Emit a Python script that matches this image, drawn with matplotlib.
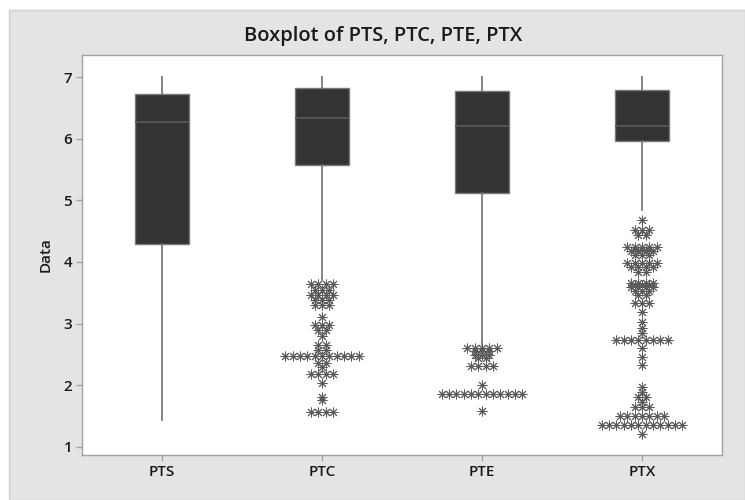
import matplotlib
matplotlib.use("Agg")
import matplotlib.pyplot as plt
from matplotlib.patches import Rectangle

plt.rcParams['font.family'] = ['Open Sans', 'DejaVu Sans']

# Summary statistics per variable
categories = ["PTS", "PTC", "PTE", "PTX"]
q1 = [4.29, 5.57, 5.12, 5.97]
median = [6.27, 6.33, 6.21, 6.20]
q3 = [6.73, 6.83, 6.77, 6.79]
whisker_low = [1.43, 3.70, 2.65, 4.84]
whisker_high = [7.0, 7.0, 7.0, 7.0]

# Outliers: distinct values and how many observations share each value
pts_out_values = []
pts_out_counts = []

ptc_out_values = [3.64, 3.55, 3.46, 3.38, 3.30, 3.11, 2.97, 2.90, 2.79, 2.65,
                  2.57, 2.47, 2.36, 2.30, 2.18, 2.03, 1.80, 1.75, 1.57]
ptc_out_counts = [4, 3, 4, 3, 3, 1, 3, 2, 1, 2,
                  2, 11, 2, 1, 4, 1, 1, 1, 4]

pte_out_values = [2.60, 2.55, 2.49, 2.44, 2.31, 2.00, 1.86, 1.58]
pte_out_counts = [5, 3, 3, 2, 4, 1, 12, 1]

ptx_out_values = [4.68, 4.52, 4.43, 4.24, 4.20, 4.17, 4.11, 3.98, 3.92, 3.84,
                  3.66, 3.62, 3.59, 3.52, 3.46, 3.33, 3.19, 3.02, 2.93, 2.84,
                  2.73, 2.60, 2.46, 2.33, 1.97, 1.89, 1.80, 1.72, 1.65, 1.50,
                  1.35, 1.21]
ptx_out_counts = [1, 3, 2, 5, 3, 4, 3, 5, 4, 2,
                  4, 3, 4, 3, 2, 3, 1, 1, 1, 1,
                  8, 1, 1, 1, 1, 1, 2, 1, 3, 7,
                  12, 1]

out_values = [pts_out_values, ptc_out_values, pte_out_values, ptx_out_values]
out_counts = [pts_out_counts, ptc_out_counts, pte_out_counts, ptx_out_counts]

panel_gray = "#e4e4e4"
frame_gray = "#a3a3a3"
box_fill = "#333333"
ink = "#5a5a5a"
text_color = "#1a1a1a"

fig = plt.figure(figsize=(7.45, 5.0), dpi=100, facecolor="white")
fig.patches.append(Rectangle((9 / 745, 0), 1 - 9 / 745, 1 - 10 / 500,
                             transform=fig.transFigure, facecolor=panel_gray,
                             edgecolor="#cfcfcf", linewidth=1.0, zorder=-10))

ax = fig.add_axes([82 / 745, 45 / 500, 640 / 745, 400 / 500])
ax.set_facecolor("white")

positions = list(range(1, len(categories) + 1))
stats = []
for i, name in enumerate(categories):
    stats.append(dict(label=name, q1=q1[i], med=median[i], q3=q3[i],
                      whislo=whisker_low[i], whishi=whisker_high[i], fliers=[]))

ax.bxp(stats, positions=positions, widths=0.335, patch_artist=True,
       showcaps=False, showfliers=False,
       boxprops=dict(facecolor=box_fill, edgecolor="#7a7a7a", linewidth=1.0),
       medianprops=dict(color="#585858", linewidth=1.3),
       whiskerprops=dict(color="#6e6e6e", linewidth=1.2))

# Outlier symbols; ties are spread side by side
dx = 0.046
for pos, vals, cnts in zip(positions, out_values, out_counts):
    xs, ys = [], []
    for v, k in zip(vals, cnts):
        for j in range(k):
            xs.append(pos + (j - (k - 1) / 2) * dx)
            ys.append(v)
    if xs:
        ax.plot(xs, ys, linestyle="none", marker=(8, 2, 0), markersize=7,
                markeredgecolor=ink, markeredgewidth=0.7, color=ink)

ax.set_xlim(0.5, 4.5)
ax.set_ylim(0.865, 7.36)
ax.set_yticks([1, 2, 3, 4, 5, 6, 7])
ax.set_xticks(positions)
ax.set_xticklabels(categories)

for sp in ax.spines.values():
    sp.set_color(frame_gray)
    sp.set_linewidth(1.0)

ax.tick_params(axis="both", direction="out", length=4, width=1.0,
               color=frame_gray, labelcolor=text_color, labelsize=11, pad=3)
for lbl in ax.get_xticklabels() + ax.get_yticklabels():
    lbl.set_fontweight("semibold")
ax.set_ylabel("Data", fontsize=11, color=text_color, labelpad=8,
              fontweight="semibold")

fig.text(383 / 745, 1 - 36 / 500, "Boxplot of PTS, PTC, PTE, PTX",
         ha="center", va="center", fontsize=14.5, fontweight="semibold",
         color=text_color)

fig.savefig("out.png", dpi=100, facecolor=fig.get_facecolor())
